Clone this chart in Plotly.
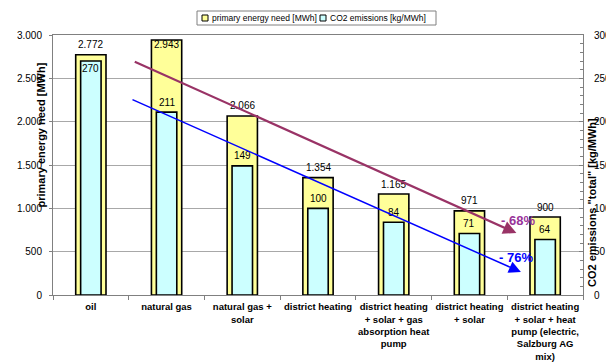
import plotly.graph_objects as go

# ---------------- data ----------------
categories = [
    "oil",
    "natural gas",
    "natural gas +<br>solar",
    "district heating",
    "district heating<br>+ solar + gas<br>absorption heat<br>pump",
    "district heating<br>+ solar",
    "district heating<br>+ solar + heat<br>pump (electric,<br>Salzburg AG<br>mix)",
]
energy_mwh = [2772, 2943, 2066, 1354, 1165, 971, 900]
co2_kg_per_mwh = [270, 211, 149, 100, 84, 71, 64]
left_ticks = [0, 500, 1000, 1500, 2000, 2500, 3000]
right_ticks = [0, 50, 100, 150, 200, 250, 300]
series_names = ["primary energy need [MWh]", "CO2 emissions [kg/MWh]"]
reduction_texts = ["- 68%", "- 76%"]
# trend arrows (start index, start value, end index, end value) in data units of left axis
arrow_energy = [0.56, 2700, 5.62, 715]
arrow_co2 = [0.53, 2262, 5.68, 265]
reduction_pos = [[5.64, 865], [5.61, 427]]

# ---------------- styling ----------------
FONT = "Liberation Sans, Arial, sans-serif"
YELLOW = "#FFFF99"
CYAN = "#CCFFFF"
MAROON = "#993366"
PURPLE = "#993399"
BLUE = "#0000FF"
W, H = 606, 362
L, R, T, B = 53, 583, 35, 295  # plot area in pixels

def px(x):
    return (x - L) / (R - L)

def py(y):
    return (B - y) / (B - T)

def fmt(v):
    return f"{v:,}".replace(",", ".")

# per-label vertical offsets (px) - a few labels sit inside their bar in the original
energy_label_shift = [10, -5, 10, 10, 10, 10, 10]
co2_label_shift = [-7, 10, 10, 10, 10, 10, 10]

fig = go.Figure()
fig.add_trace(go.Bar(
    x=categories, y=energy_mwh, width=0.4, name=series_names[0],
    marker=dict(color=YELLOW, line=dict(color="#000000", width=1.6)),
    showlegend=False, yaxis="y",
))
fig.add_trace(go.Bar(
    x=categories, y=co2_kg_per_mwh, width=0.27, name=series_names[1],
    marker=dict(color=CYAN, line=dict(color="#000000", width=1.6)),
    showlegend=False, yaxis="y2",
))

annotations = []
for i, v in enumerate(energy_mwh):
    annotations.append(dict(x=i, y=v, xref="x", yref="y", text=fmt(v), showarrow=False,
                            yshift=energy_label_shift[i],
                            font=dict(family=FONT, size=10, color="#000000")))
for i, v in enumerate(co2_kg_per_mwh):
    annotations.append(dict(x=i, y=v, xref="x", yref="y2", text=fmt(v), showarrow=False,
                            yshift=co2_label_shift[i],
                            font=dict(family=FONT, size=10, color="#000000")))

# arrows
annotations.append(dict(x=arrow_energy[2], y=arrow_energy[3], ax=arrow_energy[0], ay=arrow_energy[1],
                        xref="x", yref="y", axref="x", ayref="y", text="", showarrow=True,
                        arrowhead=2, arrowsize=1.2, arrowwidth=2.2, arrowcolor=MAROON))
annotations.append(dict(x=arrow_co2[2], y=arrow_co2[3], ax=arrow_co2[0], ay=arrow_co2[1],
                        xref="x", yref="y", axref="x", ayref="y", text="", showarrow=True,
                        arrowhead=2, arrowsize=1.6, arrowwidth=1.5, arrowcolor=BLUE))
annotations.append(dict(x=reduction_pos[0][0], y=reduction_pos[0][1], xref="x", yref="y",
                        text=reduction_texts[0], showarrow=False,
                        font=dict(family=FONT, size=13, color=PURPLE, weight="bold")))
annotations.append(dict(x=reduction_pos[1][0], y=reduction_pos[1][1], xref="x", yref="y",
                        text=reduction_texts[1], showarrow=False,
                        font=dict(family=FONT, size=13, color=BLUE, weight="bold")))

# axis titles
annotations.append(dict(x=px(32), y=py(210), xref="paper", yref="paper", text="primary energy need [MWh]",
                        textangle=-90, showarrow=False,
                        font=dict(family=FONT, size=11, color="#000000", weight="bold")))
annotations.append(dict(x=px(600), y=py(203), xref="paper", yref="paper",
                        text="CO2 emissions \"total\" [kg/MWh]",
                        textangle=-90, showarrow=False,
                        font=dict(family=FONT, size=11, color="#000000", weight="bold")))

# manual legend
shapes = [
    dict(type="rect", xref="paper", yref="paper", x0=px(197), x1=px(436), y0=py(25), y1=py(11),
         line=dict(color="#808080", width=1), fillcolor="#FFFFFF", layer="above"),
    dict(type="rect", xref="paper", yref="paper", x0=px(202), x1=px(208), y0=py(21), y1=py(15),
         line=dict(color="#000000", width=1), fillcolor=YELLOW, layer="above"),
    dict(type="rect", xref="paper", yref="paper", x0=px(320), x1=px(326), y0=py(21), y1=py(15),
         line=dict(color="#000000", width=1), fillcolor=CYAN, layer="above"),
]
annotations.append(dict(x=px(210), y=py(18), xref="paper", yref="paper", text=series_names[0],
                        xanchor="left", yanchor="middle", showarrow=False,
                        font=dict(family=FONT, size=8.5, color="#000000")))
annotations.append(dict(x=px(328), y=py(18), xref="paper", yref="paper", text=series_names[1],
                        xanchor="left", yanchor="middle", showarrow=False,
                        font=dict(family=FONT, size=8.5, color="#000000")))

fig.update_layout(
    width=W, height=H,
    margin=dict(l=L, r=W - R, t=T, b=H - B, pad=0),
    paper_bgcolor="#FFFFFF", plot_bgcolor="#FFFFFF",
    barmode="overlay",
    separators=",.",
    showlegend=False,
    font=dict(family=FONT, size=10, color="#000000"),
    xaxis=dict(
        type="category", showline=True, linecolor="#808080", linewidth=1, mirror=True,
        ticks="outside", tickson="boundaries", ticklen=4, tickcolor="#808080",
        tickangle=0, ticklabelstandoff=3,
        tickfont=dict(family=FONT, size=9.5, color="#000000", weight="bold"),
        showgrid=False, automargin=False, range=[-0.5, 6.5],
    ),
    yaxis=dict(
        range=[0, 3000], tickvals=left_ticks, tickformat=",",
        showgrid=True, gridcolor="#A8A8A8", gridwidth=1,
        showline=True, linecolor="#808080", linewidth=1,
        ticks="outside", ticklen=3, tickcolor="#808080",
        tickfont=dict(family=FONT, size=10, color="#000000"),
        ticklabelstandoff=5, zeroline=False, automargin=False,
    ),
    yaxis2=dict(
        range=[0, 300], tickvals=right_ticks, overlaying="y", side="right",
        showgrid=False, showline=True, linecolor="#808080", linewidth=1,
        ticks="inside", ticklen=4, tickcolor="#808080",
        minor=dict(dtick=10, ticks="inside", ticklen=3, tickcolor="#808080"),
        tickfont=dict(family=FONT, size=10, color="#000000"),
        ticklabelstandoff=8, zeroline=False, automargin=False,
    ),
    annotations=annotations,
    shapes=shapes,
)

fig.write_html("out.html", config={"displayModeBar": False},
               post_script="document.body.style.margin='0';document.body.style.overflow='hidden';")
